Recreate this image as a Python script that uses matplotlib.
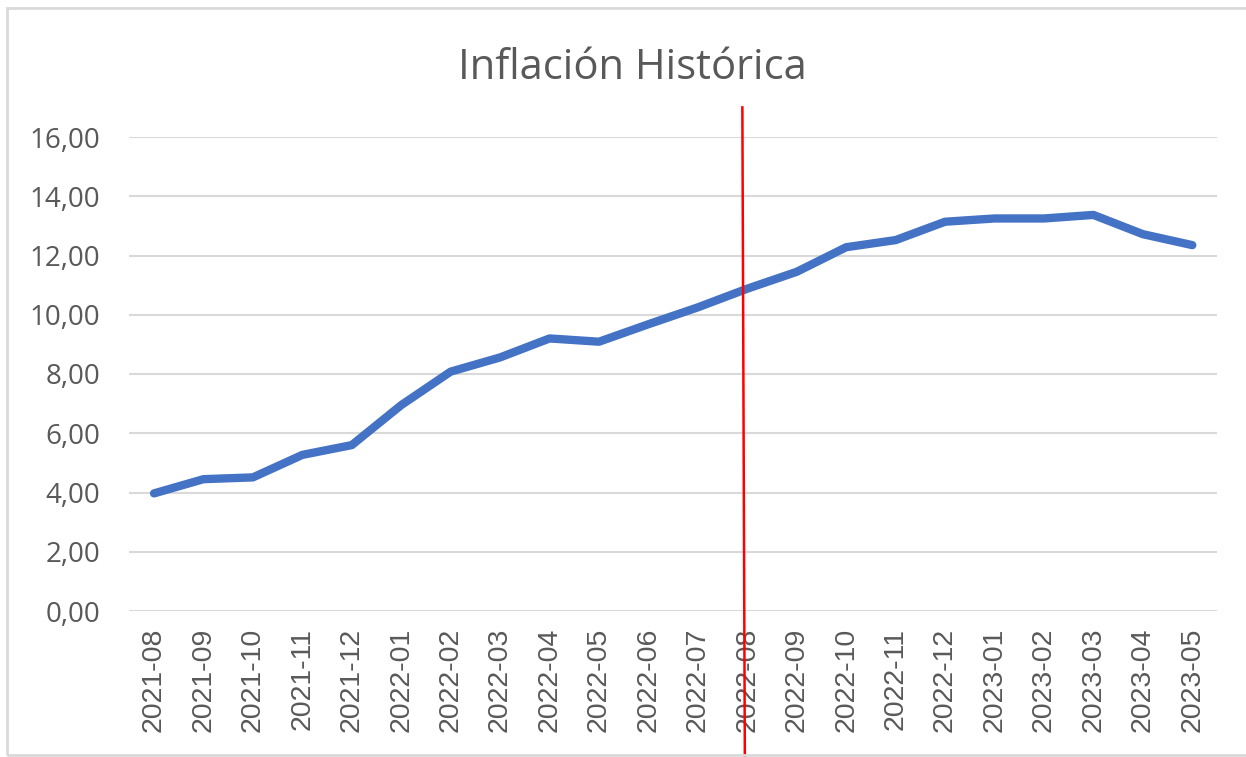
import matplotlib
matplotlib.use("Agg")
import matplotlib.pyplot as plt
from matplotlib.patches import Rectangle

months = ["2021-08", "2021-09", "2021-10", "2021-11", "2021-12", "2022-01",
          "2022-02", "2022-03", "2022-04", "2022-05", "2022-06", "2022-07",
          "2022-08", "2022-09", "2022-10", "2022-11", "2022-12", "2023-01",
          "2023-02", "2023-03", "2023-04", "2023-05"]
inflation = [3.97, 4.45, 4.51, 5.27, 5.60, 6.95, 8.08, 8.56, 9.20, 9.09,
             9.68, 10.25, 10.88, 11.45, 12.28, 12.52, 13.14, 13.25, 13.25,
             13.37, 12.72, 12.35]
yticks = [0, 2, 4, 6, 8, 10, 12, 14, 16]
ytick_labels = ["0,00", "2,00", "4,00", "6,00", "8,00", "10,00", "12,00", "14,00", "16,00"]
title = "Inflación Histórica"
marker_x = 11.9  # red vertical marker near 2022-08

W, H = 1246, 757
fig = plt.figure(figsize=(W / 100, H / 100), dpi=100)
fig.patch.set_facecolor("white")

# chart-area border (right side runs off the picture)
fig.add_artist(Rectangle((7 / W, 1 - 755 / H), 1.2, (755 - 8) / H,
                         transform=fig.transFigure, fill=False,
                         edgecolor="#d9d9d9", linewidth=2, clip_on=False))

left, right = 129.3 / W, 1217 / W
bottom, top = 1 - 611 / H, 1 - 137 / H
ax = fig.add_axes([left, bottom, right - left, top - bottom])

x = list(range(len(months)))
ax.plot(x, inflation, color="#4472C4", linewidth=6, solid_capstyle="round",
        solid_joinstyle="round", zorder=3)

ax.set_xlim(-0.5, len(months) - 0.5)
ax.set_ylim(0, 16)
ax.set_yticks(yticks)
ax.set_yticklabels(ytick_labels, fontsize=20, color="#595959", family="Open Sans")
ax.set_xticks(x)
ax.set_xticklabels(months, rotation=90, fontsize=20.5, color="#595959",
                   family="Liberation Sans")
ax.tick_params(axis="both", length=0)
ax.tick_params(axis="y", pad=21)
ax.tick_params(axis="x", pad=12)
ax.grid(axis="y", color="#d9d9d9", linewidth=1.5, zorder=0)
for s in ax.spines.values():
    s.set_visible(False)

# red vertical marker line spanning beyond axes
ax.plot([marker_x, marker_x + 0.05], [17.0, -4.95], color="#ff0000",
        linewidth=1.8, clip_on=False, zorder=4)

fig.text(632 / W, 1 - 68 / H, title, ha="center", va="center",
         fontsize=30, color="#595959", family="Open Sans")

fig.savefig("out.png", dpi=100)
